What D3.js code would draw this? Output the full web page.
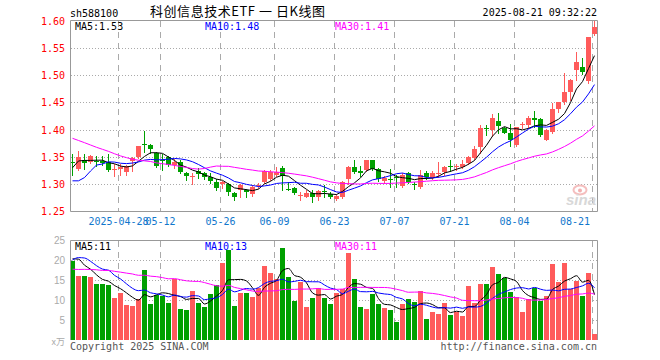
<!DOCTYPE html>
<html>
<head>
<meta charset="utf-8">
<script src="https://cdn.jsdelivr.net/npm/d3@7"></script>
<style>
  body { margin: 0; background: #fff; }
  svg { display: block; }
</style>
</head>
<body>
<svg id="chart" width="660" height="360"></svg>
<script>
// trading days shown (2025-04-16 .. 2025-08-21)
const dates = [
  '04-16','04-17','04-18','04-21','04-22','04-23','04-24','04-25','04-28','04-29',
  '04-30','05-06','05-07','05-08','05-09','05-12','05-13','05-14','05-15','05-16',
  '05-19','05-20','05-21','05-22','05-23','05-26','05-27','05-28','05-29','05-30',
  '06-03','06-04','06-05','06-06','06-09','06-10','06-11','06-12','06-13','06-16',
  '06-17','06-18','06-19','06-20','06-23','06-24','06-25','06-26','06-27','06-30',
  '07-01','07-02','07-03','07-04','07-07','07-08','07-09','07-10','07-11','07-14',
  '07-15','07-16','07-17','07-18','07-21','07-22','07-23','07-24','07-25','07-28',
  '07-29','07-30','07-31','08-01','08-04','08-05','08-06','08-07','08-08','08-11',
  '08-12','08-13','08-14','08-15','08-18','08-19','08-20','08-21'
];

const open = [
  1.342,1.329,1.344,1.341,1.343,1.343,1.342,1.328,1.329,1.3225,
  1.343,1.351,1.375,1.373,1.357,1.344,1.351,1.336,1.342,1.320,
  1.315,1.325,1.320,1.314,1.305,1.301,1.300,1.284,1.289,1.290,
  1.283,1.298,1.305,1.309,1.318,1.330,1.291,1.293,1.280,1.277,
  1.284,1.276,1.288,1.283,1.273,1.277,1.310,1.332,1.325,1.326,
  1.344,1.328,1.307,1.309,1.314,1.297,1.321,1.301,1.296,1.320,
  1.312,1.320,1.323,1.333,1.333,1.332,1.339,1.3485,1.368,1.404,
  1.400,1.416,1.403,1.395,1.373,1.409,1.409,1.422,1.421,1.382,
  1.397,1.439,1.451,1.470,1.511,1.515,1.490,1.576
];
const high = [
  1.355,1.362,1.355,1.354,1.353,1.353,1.355,1.337,1.337,1.336,
  1.351,1.371,1.398,1.374,1.359,1.355,1.353,1.347,1.344,1.322,
  1.321,1.330,1.323,1.320,1.309,1.307,1.302,1.286,1.300,1.291,
  1.299,1.302,1.326,1.326,1.332,1.333,1.305,1.296,1.286,1.289,
  1.289,1.289,1.298,1.286,1.283,1.307,1.333,1.345,1.334,1.345,
  1.345,1.330,1.315,1.328,1.318,1.320,1.322,1.304,1.327,1.324,
  1.324,1.342,1.334,1.345,1.338,1.344,1.352,1.370,1.409,1.409,
  1.430,1.432,1.406,1.411,1.406,1.414,1.425,1.435,1.422,1.402,
  1.450,1.452,1.504,1.494,1.544,1.533,1.572,1.600
];
const low = [
  1.318,1.327,1.329,1.340,1.334,1.335,1.324,1.315,1.318,1.318,
  1.325,1.349,1.359,1.358,1.331,1.327,1.334,1.330,1.320,1.308,
  1.300,1.312,1.309,1.302,1.290,1.293,1.280,1.272,1.276,1.276,
  1.279,1.293,1.303,1.308,1.315,1.289,1.289,1.282,1.271,1.276,
  1.268,1.271,1.277,1.274,1.271,1.275,1.301,1.321,1.315,1.324,
  1.327,1.307,1.302,1.295,1.296,1.295,1.302,1.291,1.293,1.309,
  1.309,1.313,1.318,1.324,1.327,1.330,1.337,1.347,1.357,1.391,
  1.389,1.394,1.394,1.370,1.371,1.404,1.403,1.406,1.389,1.381,
  1.395,1.434,1.448,1.456,1.492,1.503,1.486,1.574
];
const close = [
  1.339,1.350,1.339,1.352,1.342,1.339,1.327,1.329,1.331,1.3335,
  1.349,1.370,1.373,1.365,1.334,1.343,1.336,1.342,1.322,1.315,
  1.316,1.319,1.313,1.307,1.293,1.305,1.285,1.277,1.299,1.285,
  1.296,1.299,1.325,1.323,1.322,1.315,1.290,1.284,1.281,1.284,
  1.276,1.288,1.287,1.276,1.279,1.305,1.332,1.322,1.321,1.344,
  1.328,1.310,1.312,1.308,1.313,1.318,1.304,1.300,1.318,1.314,
  1.321,1.321,1.331,1.332,1.334,1.338,1.350,1.3655,1.403,1.403,
  1.422,1.408,1.395,1.382,1.405,1.411,1.422,1.418,1.391,1.400,
  1.439,1.451,1.470,1.492,1.526,1.506,1.571,1.589
];
// volume, 万手
const volume = [
  19.75,16,16,15.75,14,14,13.75,10.6,11.8,8.75,
  8.5,10.2,17.5,9,11.3,11,9.25,15.2,7.75,7.5,
  12.25,9.25,8.25,11.5,13.75,19.25,22.5,8.5,11.75,11.75,
  10.75,13.1,18.5,16.8,15.3,23,15.8,9.75,14.6,8.25,
  10.5,13,10.5,9,11.75,12.7,21.8,15.25,8.25,7.75,
  11.5,9,8.1,7.5,4.5,9,10.25,9.5,12.25,5.25,
  7,6.5,9.25,6.2,7,6,13.5,9.25,14,14,
  18.25,16.5,15.5,12.1,10.75,7,10.25,13,9.75,11,
  19,14.6,19.3,12.7,14.75,11,16.75,1.5
];

// 29 sessions before the window (off screen), estimated from where the MA lines start
const prevClose = [
  1.47,1.46,1.48,1.47,1.45,1.44,1.46,1.45,1.43,1.44,
  1.42,1.41,1.40,1.41,1.39,1.38,1.39,1.38,1.37,1.376,
  1.350,1.279,1.232,1.232,1.319,1.2875,1.334,1.352,1.340
];
const prevVolume = [
  18,15,17,16,19,14,17,18,16,15,20,17,16,15,18,18.4,
  14,16,15.6,16,
  10,17,24,25,22.5,
  16.5,23.5,20.75,21
];

const tickDates = ['04-28','05-12','05-26','06-09','06-23','07-07','07-21','08-04','08-21'];
const tickLabels = ['2025-04-28','05-12','05-26','06-09','06-23','07-07','07-21','08-04','08-21'];
const priceTicks = [1.60, 1.55, 1.50, 1.45, 1.40, 1.35, 1.30, 1.25];
const volTicks = [25, 20, 15, 10, 5];
const maPeriods = [5, 10, 30];
const priceMaLabels = ['1.53', '1.48', '1.41'];
const volMaLabels = ['11', '13', '11'];

const RED = '#ff5b5b', GREEN = '#00a000';
const maColors = ['#000000', '#0000ff', '#ff00ff'];
const MONO = '"DejaVu Sans Mono", "Liberation Mono", monospace';

const svg = d3.select('#chart');
const left = 70, right = 597;

const x = d3.scalePoint().domain(dates).range([72.5, 594.5]);
const yP = d3.scaleLinear().domain([1.25, 1.60]).range([211.5, 21.3]);
const yV = d3.scaleLinear().domain([0, 25]).range([340, 240]);
const crisp = v => Math.round(v - 0.4) + 0.5;

function movingAvg(prev, vals, n) {
  const all = prev.concat(vals);
  const off = prev.length;
  return vals.map((_, i) => d3.mean(all.slice(off + i - n + 1, off + i + 1)));
}

const isUp = i => close[i] >= open[i];

// ---------- header ----------
svg.append('text').attr('x', 70).attr('y', 16.5)
  .style('font-family', MONO).style('font-size', '10px').text('sh588100');
svg.append('text').attr('x', 150).attr('y', 16)
  .attr('textLength', 175).attr('lengthAdjust', 'spacing')
  .style('font-family', '"Noto Sans CJK SC", sans-serif').style('font-size', '13px')
  .text('科创信息技术ETF 一 日K线图');
svg.append('text').attr('x', 597).attr('y', 16).attr('text-anchor', 'end')
  .style('font-family', MONO).style('font-size', '10px').text('2025-08-21 09:32:22');

// ---------- price panel ----------
const gP = svg.append('g');

priceTicks.filter(p => p < 1.59 && p > 1.26).forEach(p => {
  gP.append('line').attr('x1', left + 1).attr('x2', right)
    .attr('y1', crisp(yP(p))).attr('y2', crisp(yP(p)))
    .attr('stroke', '#aaa').attr('stroke-dasharray', '1,2');
});
tickDates.forEach(d => {
  gP.append('line').attr('x1', x(d) - 2).attr('x2', x(d) - 2)
    .attr('y1', 21).attr('y2', 211)
    .attr('stroke', '#aaa').attr('stroke-dasharray', '6,5');
});
priceTicks.forEach(p => {
  gP.append('text').attr('x', 65).attr('y', crisp(yP(p)) + 3.5)
    .attr('text-anchor', 'end').attr('fill', '#ff0000')
    .style('font-family', MONO).style('font-size', '10px').text(p.toFixed(2));
});
tickDates.forEach((d, k) => {
  const w = tickLabels[k].length * 6.02;
  let cx = x(d) - 2;
  if (cx + w / 2 > 590) cx = 590 - w / 2;
  gP.append('text').attr('x', cx).attr('y', 224.5).attr('text-anchor', 'middle')
    .attr('fill', '#1177cc').style('font-family', MONO).style('font-size', '10px')
    .text(tickLabels[k]);
});

// sina watermark
const wm = gP.append('g').attr('opacity', 0.9);
wm.append('ellipse').attr('cx', 580).attr('cy', 190).attr('rx', 6.5).attr('ry', 4.5)
  .attr('fill', 'none').attr('stroke', '#f4b8b8').attr('stroke-width', 2);
wm.append('circle').attr('cx', 580).attr('cy', 190.5).attr('r', 2).attr('fill', '#f2a8a8');
wm.append('text').attr('x', 566).attr('y', 205)
  .style('font-family', '"Liberation Sans", sans-serif').style('font-size', '15px')
  .style('font-weight', 'bold').style('font-style', 'italic')
  .attr('fill', '#d4d4d4').text('sina');

// candles
const candles = gP.append('g').attr('shape-rendering', 'crispEdges');
dates.forEach((d, i) => {
  const col = isUp(i) ? RED : GREEN;
  const cx = x(d);
  candles.append('line').attr('x1', cx).attr('x2', cx)
    .attr('y1', Math.round(yP(high[i]))).attr('y2', Math.round(yP(low[i])) + 1)
    .attr('stroke', col);
  const top = Math.round(yP(Math.max(open[i], close[i])));
  const bot = Math.round(yP(Math.min(open[i], close[i])));
  candles.append('rect').attr('x', cx - 2.5).attr('y', top)
    .attr('width', 5).attr('height', Math.max(1, bot - top)).attr('fill', col);
});

// price MAs
maPeriods.forEach((n, k) => {
  const ma = movingAvg(prevClose, close, n);
  gP.append('path').datum(ma)
    .attr('d', d3.line().x((v, i) => x(dates[i])).y(v => yP(v)))
    .attr('fill', 'none').attr('stroke', maColors[k]).attr('stroke-width', 1);
});

// frame
gP.append('path').attr('d', 'M70.5,211.5V20.5H597.5V211.5Z')
  .attr('fill', 'none').attr('stroke', '#999');

[75, 205, 335].forEach((lx, k) => {
  gP.append('text').attr('x', lx).attr('y', 29.5).attr('fill', maColors[k])
    .style('font-family', MONO).style('font-size', '10px')
    .text('MA' + maPeriods[k] + ':' + priceMaLabels[k]);
});

// ---------- volume panel ----------
const gV = svg.append('g');

volTicks.filter(v => v < 25).forEach(v => {
  gV.append('line').attr('x1', left + 1).attr('x2', right)
    .attr('y1', yV(v) + 0.5).attr('y2', yV(v) + 0.5)
    .attr('stroke', '#aaa').attr('stroke-dasharray', '1,2');
});
tickDates.forEach(d => {
  gV.append('line').attr('x1', x(d) - 2).attr('x2', x(d) - 2)
    .attr('y1', 241).attr('y2', 340)
    .attr('stroke', '#aaa').attr('stroke-dasharray', '6,5');
});
volTicks.forEach(v => {
  gV.append('text').attr('x', 65).attr('y', yV(v) + 4).attr('text-anchor', 'end')
    .attr('fill', '#aaa').style('font-family', '"Liberation Sans", sans-serif')
    .style('font-size', '10px').text(v);
});
gV.append('text').attr('x', 65).attr('y', 345).attr('text-anchor', 'end')
  .attr('fill', '#aaa').style('font-family', '"Noto Sans CJK SC", sans-serif')
  .style('font-size', '9px').text('x万');

gV.append('g').attr('shape-rendering', 'crispEdges')
  .selectAll('rect').data(volume).enter().append('rect')
  .attr('x', (v, i) => x(dates[i]) - 2.5)
  .attr('y', v => Math.round(yV(v)))
  .attr('width', 5)
  .attr('height', v => 340 - Math.round(yV(v)))
  .attr('fill', (v, i) => isUp(i) ? RED : GREEN);

maPeriods.forEach((n, k) => {
  const ma = movingAvg(prevVolume, volume, n);
  gV.append('path').datum(ma)
    .attr('d', d3.line().x((v, i) => x(dates[i])).y(v => yV(v)).curve(d3.curveMonotoneX))
    .attr('fill', 'none').attr('stroke', maColors[k]).attr('stroke-width', 1);
});

gV.append('path').attr('d', 'M70.5,340V240.5H597.5V340')
  .attr('fill', 'none').attr('stroke', '#999');

[75, 205, 335].forEach((lx, k) => {
  gV.append('text').attr('x', lx).attr('y', 250).attr('fill', maColors[k])
    .style('font-family', MONO).style('font-size', '10px')
    .text('MA' + maPeriods[k] + ':' + volMaLabels[k]);
});

// ---------- footer ----------
svg.append('text').attr('x', 70).attr('y', 350).attr('fill', '#555')
  .style('font-family', MONO).style('font-size', '10px').text('Copyright 2025 SINA.COM');
svg.append('text').attr('x', 597).attr('y', 350).attr('text-anchor', 'end').attr('fill', '#555')
  .style('font-family', MONO).style('font-size', '10px').text('http://finance.sina.com.cn');
</script>
</body>
</html>
